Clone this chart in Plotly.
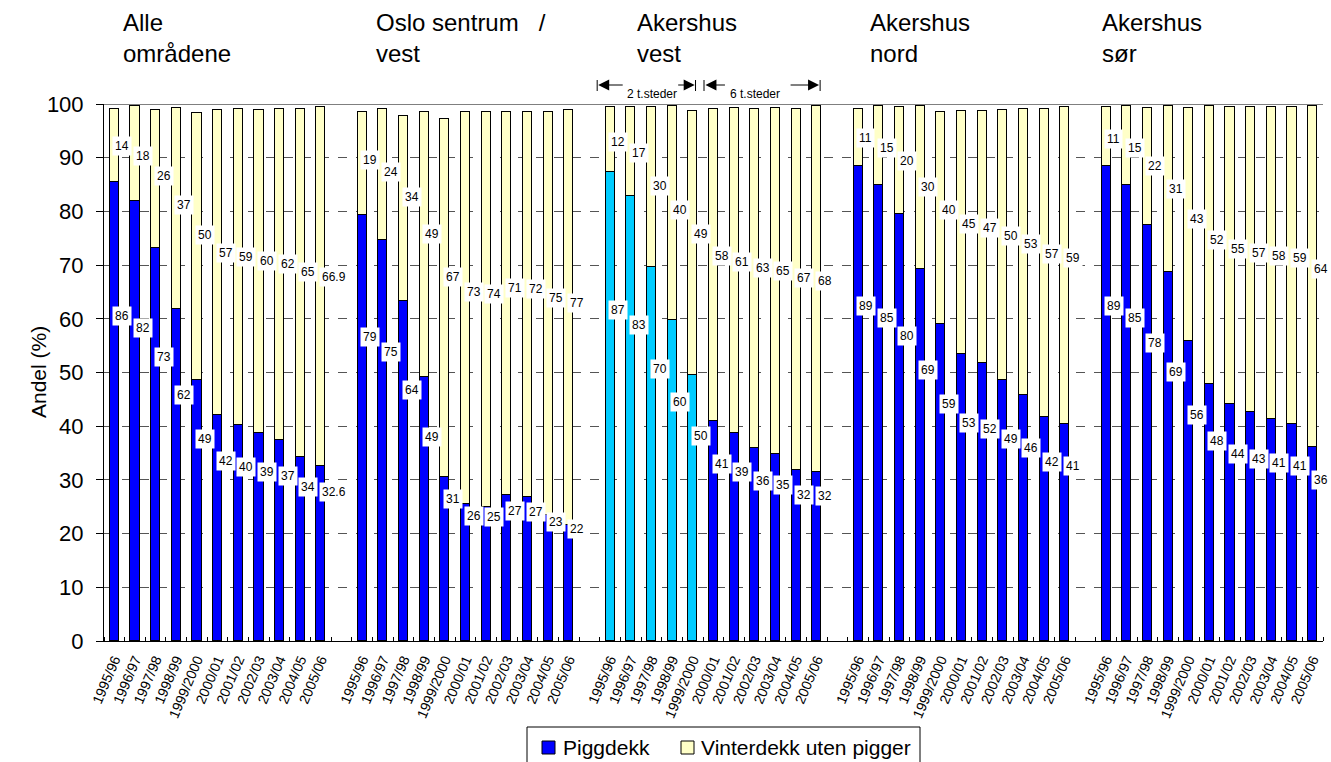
import plotly.graph_objects as go

FONT = "Liberation Sans, Arial, sans-serif"

seasons = ["1995/96", "1996/97", "1997/98", "1998/99", "1999/2000", "2000/01",
           "2001/02", "2002/03", "2003/04", "2004/05", "2005/06"]

group_titles = ["Alle<br>områdene", "Oslo sentrum\u00a0\u00a0 /<br>vest",
                "Akershus<br>vest", "Akershus<br>nord", "Akershus<br>sør"]

series_names = ["Piggdekk", "Vinterdekk uten pigger"]

# Piggdekk (studded tyres) share, %
pigg_alle = [85.5, 81.9, 73.1, 61.8, 48.6, 42.0, 40.2, 38.7, 37.4, 34.3, 32.6]
pigg_oslo = [79.3, 74.7, 63.4, 49.2, 30.6, 25.5, 25.0, 27.1, 26.8, 23.5, 21.6]
pigg_ak_vest = [87.4, 82.9, 69.7, 59.8, 49.5, 41.0, 38.8, 35.9, 34.8, 31.8, 31.5]
pigg_ak_nord = [88.5, 85.0, 79.5, 69.3, 59.0, 53.4, 51.7, 48.6, 45.8, 41.8, 40.5]
pigg_ak_sor = [88.5, 85.0, 77.5, 68.7, 55.9, 47.9, 44.1, 42.6, 41.3, 40.5, 36.2]

# Vinterdekk uten pigger (non-studded winter tyres) share, %
vint_alle = [13.6, 17.7, 25.8, 37.5, 49.7, 56.9, 58.8, 60.2, 61.7, 64.7, 66.9]
vint_oslo = [19.3, 24.4, 34.4, 49.3, 66.7, 73.0, 73.5, 71.4, 71.8, 75.1, 77.3]
vint_ak_vest = [12.1, 16.6, 29.8, 39.8, 49.2, 58.1, 60.5, 63.1, 64.5, 67.2, 68.2]
vint_ak_nord = [10.6, 14.6, 20.0, 30.4, 39.5, 45.3, 47.0, 50.2, 53.3, 57.3, 59.0]
vint_ak_sor = [11.0, 14.7, 21.7, 31.0, 43.3, 51.8, 55.4, 56.9, 58.2, 58.9, 63.5]

# Printed data labels
pigg_lbl_alle = ["86", "82", "73", "62", "49", "42", "40", "39", "37", "34", "32.6"]
pigg_lbl_oslo = ["79", "75", "64", "49", "31", "26", "25", "27", "27", "23", "22"]
pigg_lbl_ak_vest = ["87", "83", "70", "60", "50", "41", "39", "36", "35", "32", "32"]
pigg_lbl_ak_nord = ["89", "85", "80", "69", "59", "53", "52", "49", "46", "42", "41"]
pigg_lbl_ak_sor = ["89", "85", "78", "69", "56", "48", "44", "43", "41", "41", "36"]

vint_lbl_alle = ["14", "18", "26", "37", "50", "57", "59", "60", "62", "65", "66.9"]
vint_lbl_oslo = ["19", "24", "34", "49", "67", "73", "74", "71", "72", "75", "77"]
vint_lbl_ak_vest = ["12", "17", "30", "40", "49", "58", "61", "63", "65", "67", "68"]
vint_lbl_ak_nord = ["11", "15", "20", "30", "40", "45", "47", "50", "53", "57", "59"]
vint_lbl_ak_sor = ["11", "15", "22", "31", "43", "52", "55", "57", "58", "59", "64"]

# Akershus vest: seasons measured at only 2 sites
two_site_seasons = ["1995/96", "1996/97", "1997/98", "1998/99", "1999/2000"]

pigg_groups = [pigg_alle, pigg_oslo, pigg_ak_vest, pigg_ak_nord, pigg_ak_sor]
vint_groups = [vint_alle, vint_oslo, vint_ak_vest, vint_ak_nord, vint_ak_sor]
pigg_lbls = [pigg_lbl_alle, pigg_lbl_oslo, pigg_lbl_ak_vest, pigg_lbl_ak_nord, pigg_lbl_ak_sor]
vint_lbls = [vint_lbl_alle, vint_lbl_oslo, vint_lbl_ak_vest, vint_lbl_ak_nord, vint_lbl_ak_sor]

BLUE = "#0000FF"
CYAN = "#00CCFF"
YELLOW = "#FFFFC8"

W, H = 1331, 762
ML, MR, MT, MB = 104, 8, 104, 121
PW, PH = W - ML - MR, H - MT - MB


def px_x(p):  # pixel -> paper x
    return (p - ML) / PW


def px_y(p):  # pixel -> paper y
    return (H - MB - p) / PH


n = len(seasons)
step = n + 1  # one empty slot between groups
xs, pv, vv, pcol, plbl, vlbl, tickv, tickt = [], [], [], [], [], [], [], []
for g in range(len(pigg_groups)):
    for i in range(n):
        x = g * step + i
        xs.append(x)
        pv.append(pigg_groups[g][i])
        vv.append(vint_groups[g][i])
        plbl.append(pigg_lbls[g][i])
        vlbl.append(vint_lbls[g][i])
        pcol.append(CYAN if (g == 2 and seasons[i] in two_site_seasons) else BLUE)
        tickv.append(x)
        tickt.append(seasons[i])

fig = go.Figure()
fig.add_trace(go.Bar(x=xs, y=pv, name=series_names[0], width=0.44, showlegend=False,
                     marker=dict(color=pcol, line=dict(color="black", width=1.4))))
fig.add_trace(go.Bar(x=xs, y=vv, name=series_names[1], width=0.44, showlegend=False,
                     marker=dict(color=YELLOW, line=dict(color="black", width=1.4))))

annotations = []
# data labels
for x, p, v, pl, vl in zip(xs, pv, vv, plbl, vlbl):
    annotations.append(dict(x=x, y=0.62 * p + 7.5, xref="x", yref="y", text=pl,
                            showarrow=False, xanchor="left", xshift=-2,
                            bgcolor="white", borderpad=2,
                            font=dict(family=FONT, size=12, color="black")))
    annotations.append(dict(x=x, y=98.5 - 0.46 * v, xref="x", yref="y", text=vl,
                            showarrow=False, xanchor="left", xshift=-2,
                            bgcolor="white", borderpad=2,
                            font=dict(family=FONT, size=12, color="black")))

# group titles
title_offsets = [0.3, 0.55, 1.2, 0.5, -0.3]
for g, t in enumerate(group_titles):
    annotations.append(dict(x=g * step + title_offsets[g], y=px_y(7), xref="x", yref="paper",
                            text=t, showarrow=False, xanchor="left", yanchor="top",
                            align="left", font=dict(family=FONT, size=24, color="black")))

# y axis title
annotations.append(dict(x=px_x(25), y=0.5, xref="paper", yref="paper", text="Andel (%)",
                        showarrow=False, textangle=-90,
                        font=dict(family=FONT, size=21, color="black")))

# site-count markers above Akershus vest
ya = px_y(85)
for (x0, x1, txt, tx, axl, axr) in [(23.37, 28.11, "2 t.steder", 26.0, 26, -18),
                                    (28.56, 34.13, "6 t.steder", 31.0, 21, -30)]:
    annotations.append(dict(x=x0 + 0.05, y=ya, xref="x", yref="paper", ax=axl, ay=0,
                            text="", showarrow=True, arrowhead=2, arrowsize=2.2,
                            arrowwidth=1, arrowcolor="black"))
    annotations.append(dict(x=x1 - 0.02, y=ya, xref="x", yref="paper", ax=axr, ay=0,
                            text="", showarrow=True, arrowhead=2, arrowsize=2.2,
                            arrowwidth=1, arrowcolor="black"))
    annotations.append(dict(x=tx, y=ya, xref="x", yref="paper", text=txt, showarrow=False,
                            font=dict(family=FONT, size=12, color="black")))

shapes = []
for xb in [23.37, 28.13, 28.54, 34.16]:
    shapes.append(dict(type="line", xref="x", yref="paper", x0=xb, x1=xb,
                       y0=px_y(91), y1=px_y(80), line=dict(color="black", width=1)))
# top border
shapes.append(dict(type="line", xref="paper", yref="y", x0=px_x(96), x1=1, y0=100, y1=100,
                   line=dict(color="black", width=1)))

# manual legend (box runs past the bottom edge as in the original)
shapes.append(dict(type="rect", xref="paper", yref="paper", x0=px_x(527), x1=px_x(920),
                   y0=px_y(727), y1=px_y(790), line=dict(color="black", width=1),
                   fillcolor="white"))
for sx, col, tx_, name in [(542, BLUE, 561, series_names[0]),
                           (681, YELLOW, 699, series_names[1])]:
    shapes.append(dict(type="rect", xref="paper", yref="paper", x0=px_x(sx), x1=px_x(sx + 13),
                       y0=px_y(754), y1=px_y(741), line=dict(color="black", width=1),
                       fillcolor=col))
    annotations.append(dict(x=px_x(tx_), y=px_y(747), xref="paper", yref="paper", text=name,
                            showarrow=False, xanchor="left", yanchor="middle",
                            font=dict(family=FONT, size=21, color="black")))

fig.update_layout(
    barmode="stack",
    width=W, height=H,
    margin=dict(l=ML, r=MR, t=MT, b=MB, autoexpand=False),
    paper_bgcolor="white", plot_bgcolor="white",
    font=dict(family=FONT, color="black"),
    annotations=annotations,
    shapes=shapes,
    showlegend=False,
    xaxis=dict(range=[-0.5, len(pigg_groups) * step - 1.5], tickmode="array",
               tickvals=tickv, ticktext=tickt, tickangle=-67, ticks="",
               tickfont=dict(family=FONT, size=14), showgrid=False, zeroline=False,
               showline=True, linecolor="black", linewidth=1, automargin=False,
               ticklabelstandoff=4,
               minor=dict(ticks="inside", ticklen=4, tick0=0.5, dtick=1,
                          tickcolor="black", showgrid=False)),
    yaxis=dict(range=[0, 100], dtick=10, tick0=0, showgrid=True, gridcolor="#555555",
               griddash="dash", gridwidth=1, ticks="outside", ticklen=7,
               tickcolor="black", tickfont=dict(family=FONT, size=22),
               ticklabelstandoff=8, showline=True, linecolor="black", linewidth=1,
               zeroline=False, automargin=False),
    bargap=0,
)

fig.write_html("out.html", config={"displayModeBar": False},
               post_script="document.body.style.margin='0px';document.body.style.overflow='hidden';")
